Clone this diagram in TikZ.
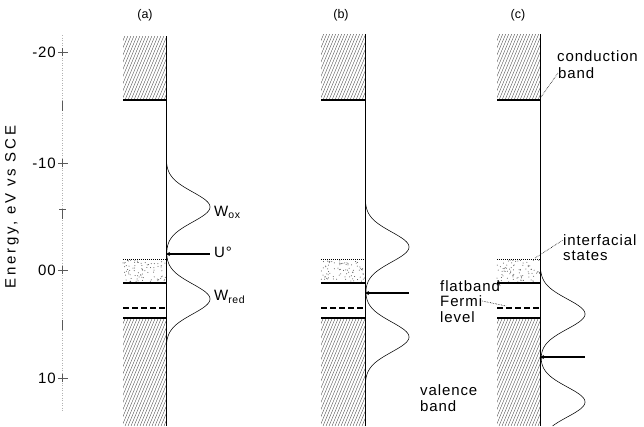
\documentclass[tikz,border=0pt]{standalone}
\usepackage{fontspec}
\setmainfont{Liberation Sans}
\usetikzlibrary{arrows.meta}
\newcommand\hatchbox[4]{%
  \begin{scope}
    \clip (#1,#2) rectangle (#3,#4);
    \foreach \k in {-52,-49,...,46} {
      \draw[hatch] ({#1+\k},#4) -- ({#1+\k+0.42*(#4-#2)},#2);
    }
  \end{scope}}
\newcommand\stipple[4]{%
  \foreach \n in {1,...,80} {
    \fill[gray!60!black] ({#1+(#3-#1)*rnd},{#2+(#4-#2)*rnd}) circle (0.5);
  }}
\begin{document}
\begin{tikzpicture}[x=1pt,y=-1pt,
  iface/.style={line width=0.9pt},
  edge/.style={line width=1.5pt},
  hatch/.style={gray!55!black, line width=0.35pt},
  curve/.style={line width=0.55pt},
  lbl/.style={font=\fontsize{15}{16}\selectfont\addfontfeature{LetterSpace=6}, inner sep=0pt, anchor=west},
  plbl/.style={font=\fontsize{12.5}{14}\selectfont, inner sep=0pt},
  leader/.style={densely dotted, line width=0.6pt},
  tickl/.style={line width=0.7pt, gray!70!black},
  level/.style={line width=1.2pt},
  ptr/.style={line width=1.3pt, {Stealth[length=4pt,width=4pt]}-}]
\useasboundingbox (0,0) rectangle (644,426);
\pgfmathsetseed{7}
% axis
\draw[gray!60, dotted, line width=0.5pt] (62,35) -- (62,412);
\foreach \yy/\lab/\nm in {52/-20/t1, 163/-10/t2, 270/00/t3, 378/10/t4} {
  \draw[tickl] (58,\yy) -- (68,\yy);
  \draw[tickl] (62,\yy-4) -- (62,\yy+4);
  \node[lbl, anchor=east] (\nm) at (56,\yy) {\lab};
}
\foreach \yy in {106,214,325} {
  \draw[tickl] (62,\yy-5) -- (62,\yy+5);
}
\draw[tickl] (59,214-5) -- (66,214-5);
\node[inner sep=0pt, anchor=center, rotate=90, font=\fontsize{15}{16}\selectfont\addfontfeature{LetterSpace=18}] (axis) at (12,207) {Energy, eV vs SCE};
% panels
\foreach \L/\R/\T in {123/166/36, 321/365/34, 497/540/34} {
  \hatchbox{\L}{\T}{\R}{100}
  \draw[edge] (\L,100) -- (\R,100);
  \stipple{\L}{260}{\R}{282}
  \draw[densely dotted, line width=1pt] (\L,259) -- (\R,259);
  \draw[line width=1.1pt] (\L,283) -- (\R,283);
  \draw[level, dash pattern=on 6pt off 3pt] (\L,308) -- (\R,308);
  \hatchbox{\L}{318}{\R}{426}
  \draw[edge] (\L,318) -- (\R,318);
  \draw[iface] (\R,\T) -- (\R,426);
}
% distribution curves
\draw[curve] plot[domain=160:346, samples=160, variable=\t]
  ({166+44*(exp(-min(((\t-207)/15)^2/2,30))+exp(-min(((\t-299)/15)^2/2,30)))}, \t);
\draw[curve] plot[domain=200:382, samples=160, variable=\t]
  ({365+44*(exp(-min(((\t-247)/15)^2/2,30))+exp(-min(((\t-337)/15)^2/2,30)))}, \t);
\draw[curve] plot[domain=268:426, samples=160, variable=\t]
  ({540+45*(exp(-min(((\t-314)/15)^2/2,30))+exp(-min(((\t-402)/15)^2/2,30)))}, \t);
% U0 levels
\coordinate (ua) at (166,254); \coordinate (ua2) at (210,254);
\coordinate (ub) at (365,293); \coordinate (ub2) at (409,293);
\coordinate (uc) at (540,357); \coordinate (uc2) at (585,357);
\draw[ptr] (ua) -- (ua2);
\draw[ptr] (ub) -- (ub2);
\draw[ptr] (uc) -- (uc2);
% labels
\node[plbl] (pa) at (145,15) {(a)};
\node[plbl] (pb) at (341,15) {(b)};
\node[plbl] (pc) at (518,15) {(c)};
\node[lbl] (wox) at (214,212) {W\textsubscript{ox}};
\node[lbl] (uo) at (214,252) {U°};
\node[lbl] (wred) at (214,297) {W\textsubscript{red}};
\node[lbl] (cb1) at (557,56) {conduction};
\node[lbl] (cb2) at (558,73) {band};
\node[lbl] (is1) at (563,240) {interfacial};
\node[lbl] (is2) at (563,256) {states};
\node[lbl] (fb1) at (440,286) {flatband};
\node[lbl] (fb2) at (440,301) {Fermi};
\node[lbl] (fb3) at (440,317) {level};
\node[lbl] (vb1) at (420,390) {valence};
\node[lbl] (vb2) at (420,406) {band};
% leaders
\coordinate (cbp) at (541,97);
\coordinate (isp) at (535,258);
\coordinate (fbp) at (499,283);
\coordinate (flp) at (506,306);
\draw[leader] (cbp) -- (cb2.west);
\draw[leader] (isp) -- (is1.west);
\draw[leader] (fb1.east) -- (fbp);
\draw[leader] (fb2.east) -- (flp);
\end{tikzpicture}
\end{document}
